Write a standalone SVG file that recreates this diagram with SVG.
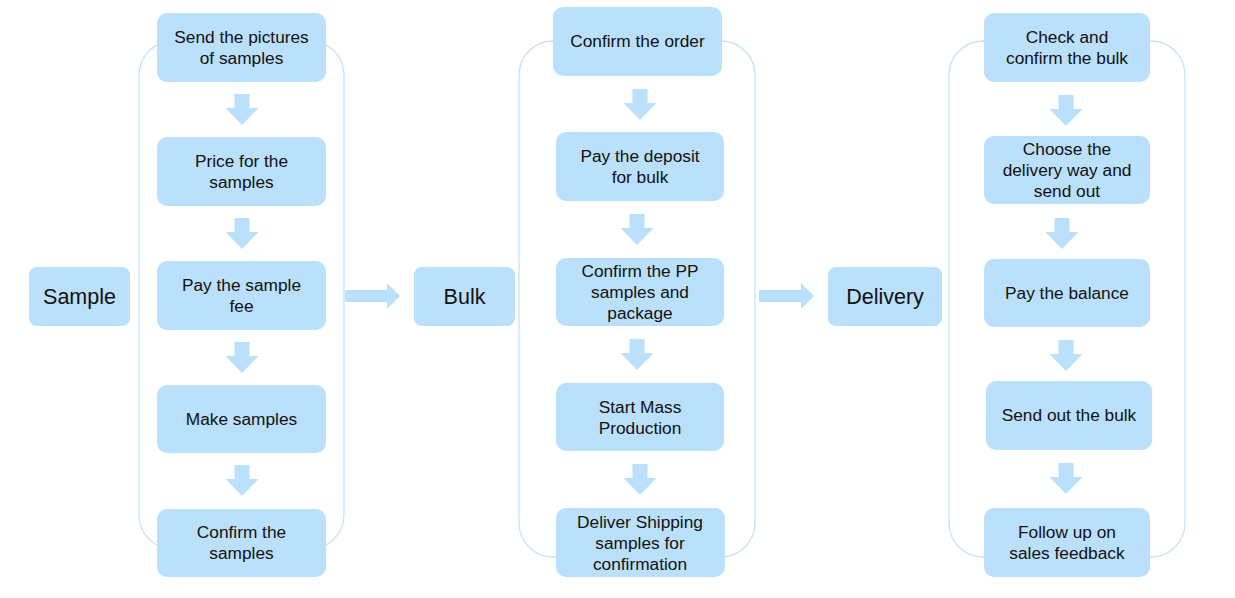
<svg xmlns="http://www.w3.org/2000/svg" width="1235" height="598" viewBox="0 0 1235 598">
<defs>
<style>
.c{fill:none;stroke:#C6E2F8;stroke-width:1.3}
.b{fill:#BAE0FC}
.a{fill:#BAE0FC}
.t{font-family:"Liberation Sans",Arial,sans-serif;font-size:17.3px;fill:#111;text-anchor:middle}
.h{font-family:"Liberation Sans",Arial,sans-serif;font-size:21.5px;fill:#111;text-anchor:middle}
</style>
<path id="ad" d="M-7.5,0 H7.5 V14 H16.5 L0,31 L-16.5,14 H-7.5 Z"/>
</defs>
<rect width="1235" height="598" fill="#fff"/>
<g id="containers">
<rect class="c" x="139" y="41" width="205" height="508" rx="34"/>
<rect class="c" x="519" y="41" width="236" height="516" rx="34"/>
<rect class="c" x="949" y="41" width="236" height="516" rx="34"/>
</g>
<g id="connectors">
<use href="#ad" class="a" x="242" y="94"/>
<use href="#ad" class="a" x="242" y="218"/>
<use href="#ad" class="a" x="242" y="342"/>
<use href="#ad" class="a" x="242" y="465"/>
<use href="#ad" class="a" x="640" y="89"/>
<use href="#ad" class="a" x="637" y="214"/>
<use href="#ad" class="a" x="637" y="339"/>
<use href="#ad" class="a" x="640" y="464"/>
<use href="#ad" class="a" x="1066" y="95"/>
<use href="#ad" class="a" x="1062" y="218"/>
<use href="#ad" class="a" x="1066" y="340"/>
<use href="#ad" class="a" x="1066" y="463"/>
<path class="a" d="M345,290 H387 V283 L400,296 L387,309 V302 H345 Z"/>
<path class="a" d="M759,290 H801 V283 L814,296 L801,309 V302 H759 Z"/>
</g>
<g id="n-sample"><rect class="b" x="29" y="267" width="101" height="59" rx="8"/><text class="h" x="79.5" y="304">Sample</text></g>
<g id="n-bulk"><rect class="b" x="414" y="267" width="101" height="59" rx="8"/><text class="h" x="464.5" y="304">Bulk</text></g>
<g id="n-delivery"><rect class="b" x="828" y="267" width="114" height="59" rx="8"/><text class="h" x="885" y="304">Delivery</text></g>

<g id="s1"><rect class="b" x="157" y="13" width="169" height="69" rx="10"/><text class="t" x="241.5" y="43">Send the pictures</text><text class="t" x="241.5" y="64">of samples</text></g>
<g id="s2"><rect class="b" x="157" y="137" width="169" height="69" rx="10"/><text class="t" x="241.5" y="167">Price for the</text><text class="t" x="241.5" y="188">samples</text></g>
<g id="s3"><rect class="b" x="157" y="261" width="169" height="69" rx="10"/><text class="t" x="241.5" y="291">Pay the sample</text><text class="t" x="241.5" y="312">fee</text></g>
<g id="s4"><rect class="b" x="157" y="385" width="169" height="68" rx="10"/><text class="t" x="241.5" y="425">Make samples</text></g>
<g id="s5"><rect class="b" x="157" y="509" width="169" height="68" rx="10"/><text class="t" x="241.5" y="538">Confirm the</text><text class="t" x="241.5" y="559">samples</text></g>

<g id="b1"><rect class="b" x="553" y="7" width="169" height="69" rx="10"/><text class="t" x="637.5" y="47">Confirm the order</text></g>
<g id="b2"><rect class="b" x="556" y="132" width="168" height="69" rx="10"/><text class="t" x="640" y="162">Pay the deposit</text><text class="t" x="640" y="183">for bulk</text></g>
<g id="b3"><rect class="b" x="556" y="258" width="168" height="68" rx="10"/><text class="t" x="640" y="277">Confirm the PP</text><text class="t" x="640" y="298">samples and</text><text class="t" x="640" y="319">package</text></g>
<g id="b4"><rect class="b" x="556" y="383" width="168" height="68" rx="10"/><text class="t" x="640" y="413">Start Mass</text><text class="t" x="640" y="434">Production</text></g>
<g id="b5"><rect class="b" x="556" y="508" width="169" height="69" rx="10"/><text class="t" x="640" y="528">Deliver Shipping</text><text class="t" x="640" y="549">samples for</text><text class="t" x="640" y="570">confirmation</text></g>

<g id="d1"><rect class="b" x="984" y="13" width="166" height="69" rx="10"/><text class="t" x="1067" y="43">Check and</text><text class="t" x="1067" y="64">confirm the bulk</text></g>
<g id="d2"><rect class="b" x="984" y="136" width="166" height="68" rx="10"/><text class="t" x="1067" y="155">Choose the</text><text class="t" x="1067" y="176">delivery way and</text><text class="t" x="1067" y="197">send out</text></g>
<g id="d3"><rect class="b" x="984" y="259" width="166" height="68" rx="10"/><text class="t" x="1067" y="299">Pay the balance</text></g>
<g id="d4"><rect class="b" x="986" y="381" width="166" height="69" rx="10"/><text class="t" x="1069" y="421">Send out the bulk</text></g>
<g id="d5"><rect class="b" x="984" y="508" width="166" height="69" rx="10"/><text class="t" x="1067" y="538">Follow up on</text><text class="t" x="1067" y="559">sales feedback</text></g>
</svg>
